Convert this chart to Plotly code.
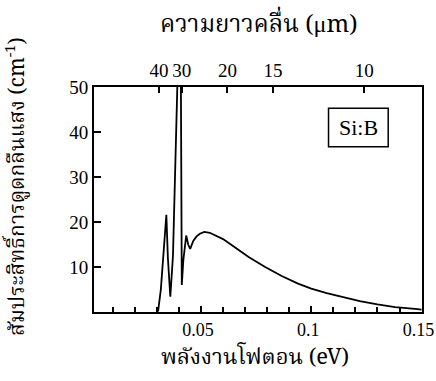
import plotly.graph_objects as go

# Photon energy (eV) and absorption coefficient (cm^-1)
energy_ev = [0.0300, 0.0306, 0.0318, 0.0330, 0.0337, 0.0343, 0.0350, 0.0361,
             0.0373, 0.0383, 0.0391, 0.0399, 0.0409, 0.0413, 0.0420, 0.0433,
             0.0442, 0.0451, 0.0465, 0.0480, 0.0495, 0.0515, 0.0540, 0.0567,
             0.0600, 0.0642, 0.0680, 0.0716, 0.0791, 0.0866, 0.0940, 0.1000,
             0.1070, 0.1150, 0.1220, 0.1300, 0.1380, 0.1470, 0.1500]
absorption = [0.0, 0.3, 5.0, 13.0, 18.0, 21.6, 12.0, 3.4,
              12.5, 30.0, 50.0, 62.0, 50.0, 6.0, 11.5, 17.0,
              15.0, 14.0, 15.8, 16.8, 17.4, 17.8, 17.6, 17.0,
              16.2, 14.8, 13.4, 12.2, 10.0, 8.0, 6.3, 5.2,
              4.2, 3.2, 2.4, 1.7, 1.1, 0.7, 0.55]

bottom_tickvals = [0.05, 0.10, 0.15]
bottom_ticktext = ["0.05", "0.1", "0.15"]
minor_step = 0.01
wavelength_um = [40, 30, 20, 15, 10]
y_tickvals = [10, 20, 30, 40, 50]

x_range = [0.0015, 0.1502]
y_range = [0, 50]

serif = "Times New Roman, Liberation Serif, serif"
thai = "Noto Serif Thai, Noto Sans Thai, Loma, Garuda, Norasi, Liberation Serif, serif"

fig = go.Figure()
fig.add_trace(go.Scatter(x=energy_ev, y=absorption, mode="lines",
                         line=dict(color="black", width=1.8),
                         showlegend=False, hoverinfo="skip"))
# invisible trace for the top (wavelength) axis
fig.add_trace(go.Scatter(x=[1.2398 / w for w in wavelength_um], y=[0] * len(wavelength_um),
                         xaxis="x2", mode="markers", showlegend=False,
                         marker=dict(opacity=0), hoverinfo="skip"))

axis_common = dict(showline=True, linecolor="black", linewidth=2,
                   showgrid=False, zeroline=False, automargin=False,
                   tickcolor="black", tickwidth=1.5, ticklabeloverflow="allow")

fig.update_layout(
    width=436, height=381,
    margin=dict(l=93.5, r=14, t=87, b=68.5),
    paper_bgcolor="white", plot_bgcolor="white",
    font=dict(family=serif, color="black", size=15),
    xaxis=dict(range=x_range, tickvals=bottom_tickvals, ticktext=bottom_ticktext,
               ticks="inside", ticklen=6, ticklabelshift=-3,
               tickfont=dict(family=serif, size=18, color="black"),
               minor=dict(dtick=minor_step, tick0=0, ticks="inside", ticklen=5,
                          tickwidth=1.5, tickcolor="black", showgrid=False),
               **axis_common),
    xaxis2=dict(overlaying="x", side="top", range=x_range,
                tickvals=[1.2398 / w for w in wavelength_um],
                ticktext=[str(w) for w in wavelength_um],
                tickfont=dict(family=serif, size=19, color="black"),
                ticks="inside", ticklen=6, **axis_common),
    yaxis=dict(range=y_range, tickvals=y_tickvals, mirror=True,
               tickfont=dict(family=serif, size=19, color="black"),
               ticks="inside", ticklen=7, **axis_common),
    shapes=[dict(type="rect", xref="paper", yref="paper",
                 x0=0.715, x1=0.897, y0=0.735, y1=0.906,
                 line=dict(color="black", width=1.5), fillcolor="white")],
    annotations=[
        dict(text="Si:B", xref="paper", yref="paper", x=0.806, y=0.82,
             xanchor="center", yanchor="middle", showarrow=False,
             font=dict(family=serif, size=22, color="black")),
        dict(text="ความยาวคลื่น (μm)", xref="paper", yref="paper", x=0.50, y=1.275,
             xanchor="center", yanchor="middle", showarrow=False,
             font=dict(family=thai, size=24, color="black")),
        dict(text="พลังงานโฟตอน (eV)", xref="paper", yref="paper", x=0.49, y=-0.205,
             xanchor="center", yanchor="middle", showarrow=False,
             font=dict(family=thai, size=22, color="black")),
        dict(text="สัมประสิทธิ์การดูดกลืนแสง (cm<sup>-1</sup>)", xref="paper", yref="paper",
             x=-0.235, y=0.56, xanchor="center", yanchor="middle", textangle=-90,
             showarrow=False, font=dict(family=thai, size=21, color="black")),
    ],
)

fig.write_html("out.html", config={"displayModeBar": False},
               post_script="document.body.style.margin='0px';document.body.style.overflow='hidden';")
